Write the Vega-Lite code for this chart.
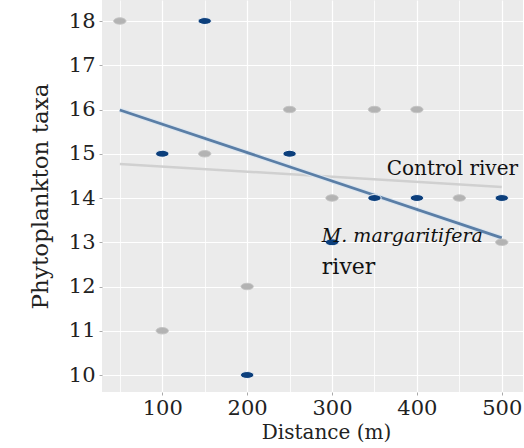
{
  "$schema": "https://vega.github.io/schema/vega-lite/v6.json",
  "width": 421,
  "height": 392,
  "autosize": "none",
  "padding": {"left": 102, "top": 0, "right": 1, "bottom": 56},
  "background": "white",
  "config": {
    "view": {"fill": "#ebebeb", "stroke": null},
    "axis": {
      "labelFont": "DejaVu Serif",
      "titleFont": "DejaVu Serif",
      "labelColor": "#222222",
      "titleColor": "#222222",
      "titleFontWeight": "normal",
      "domain": false,
      "gridColor": "white"
    }
  },
  "datasets": {
    "points": [
      {"distance": 50, "taxa": 18, "river": "Control"},
      {"distance": 100, "taxa": 11, "river": "Control"},
      {"distance": 150, "taxa": 15, "river": "Control"},
      {"distance": 200, "taxa": 12, "river": "Control"},
      {"distance": 250, "taxa": 16, "river": "Control"},
      {"distance": 300, "taxa": 14, "river": "Control"},
      {"distance": 350, "taxa": 16, "river": "Control"},
      {"distance": 400, "taxa": 16, "river": "Control"},
      {"distance": 450, "taxa": 14, "river": "Control"},
      {"distance": 500, "taxa": 13, "river": "Control"},
      {"distance": 100, "taxa": 15, "river": "Mussel"},
      {"distance": 150, "taxa": 18, "river": "Mussel"},
      {"distance": 200, "taxa": 10, "river": "Mussel"},
      {"distance": 250, "taxa": 15, "river": "Mussel"},
      {"distance": 300, "taxa": 13, "river": "Mussel"},
      {"distance": 350, "taxa": 14, "river": "Mussel"},
      {"distance": 400, "taxa": 14, "river": "Mussel"},
      {"distance": 500, "taxa": 14, "river": "Mussel"}
    ],
    "fits": [
      {"distance": 50, "taxa": 14.77, "river": "Control"},
      {"distance": 500, "taxa": 14.25, "river": "Control"},
      {"distance": 50, "taxa": 15.99, "river": "Mussel"},
      {"distance": 500, "taxa": 13.1, "river": "Mussel"}
    ],
    "labels": [
      {"distance": 364.5, "taxa": 14.52, "label": "Control river", "style": "control"},
      {"distance": 288, "taxa": 13.0, "label": "M. margaritifera", "style": "italic"},
      {"distance": 288, "taxa": 12.28, "label": "river", "style": "river"}
    ]
  },
  "layer": [
    {
      "data": {"name": "fits"},
      "transform": [{"filter": "datum.river == 'Control'"}],
      "mark": {"type": "line", "color": "#d0d0d0", "strokeWidth": 2.5},
      "encoding": {
        "x": {
          "field": "distance", "type": "quantitative",
          "scale": {"domain": [29, 525], "nice": false, "zero": false},
          "axis": {
            "title": "Distance (m)",
            "titleFontSize": 20,
            "titleX": 224,
            "titlePadding": 4,
            "labelFontSize": 21,
            "labelPadding": 2,
            "values": [50, 100, 150, 200, 250, 300, 350, 400, 450, 500],
            "labelExpr": "datum.value % 100 == 0 ? datum.label : ''",
            "tickSize": 3,
            "tickColor": {"condition": {"test": "datum.value % 100 == 0", "value": "#aaaaaa"}, "value": "transparent"},
            "gridWidth": {"condition": {"test": "datum.value % 100 == 0", "value": 1.2}, "value": 0.8}
          }
        },
        "y": {
          "field": "taxa", "type": "quantitative",
          "scale": {"domain": [9.616, 18.475], "nice": false, "zero": false},
          "axis": {
            "title": "Phytoplankton taxa",
            "titleFontSize": 23,
            "titlePadding": 16,
            "labelFontSize": 21,
            "labelPadding": 4,
            "values": [10, 10.5, 11, 11.5, 12, 12.5, 13, 13.5, 14, 14.5, 15, 15.5, 16, 16.5, 17, 17.5, 18],
            "labelExpr": "datum.value % 1 == 0 ? datum.label : ''",
            "tickSize": 3,
            "tickColor": {"condition": {"test": "datum.value % 1 == 0", "value": "#aaaaaa"}, "value": "transparent"},
            "gridWidth": {"condition": {"test": "datum.value % 1 == 0", "value": 1.2}, "value": 0.8}
          }
        }
      }
    },
    {
      "data": {"name": "fits"},
      "transform": [{"filter": "datum.river == 'Mussel'"}],
      "mark": {"type": "line", "color": "#dde6ef", "strokeWidth": 5},
      "encoding": {
        "x": {"field": "distance", "type": "quantitative"},
        "y": {"field": "taxa", "type": "quantitative"}
      }
    },
    {
      "data": {"name": "fits"},
      "transform": [{"filter": "datum.river == 'Mussel'"}],
      "mark": {"type": "line", "color": "#5a7ea6", "strokeWidth": 2.8},
      "encoding": {
        "x": {"field": "distance", "type": "quantitative"},
        "y": {"field": "taxa", "type": "quantitative"}
      }
    },
    {
      "data": {"name": "points"},
      "mark": {
        "type": "point",
        "filled": true,
        "opacity": 1,
        "shape": "M-1,0A1,0.52,0,1,0,1,0A1,0.52,0,1,0,-1,0Z"
      },
      "encoding": {
        "x": {"field": "distance", "type": "quantitative"},
        "y": {"field": "taxa", "type": "quantitative"},
        "color": {
          "field": "river", "type": "nominal",
          "scale": {"domain": ["Control", "Mussel"], "range": ["#b3b3b3", "#0c3f7c"]},
          "legend": null
        },
        "size": {
          "field": "river", "type": "nominal",
          "scale": {"domain": ["Control", "Mussel"], "range": [150, 175]},
          "legend": null
        },
        "stroke": {
          "field": "river", "type": "nominal",
          "scale": {"domain": ["Control", "Mussel"], "range": ["#c4c4c4", "#ffffff"]},
          "legend": null
        },
        "strokeWidth": {"value": 1}
      }
    },
    {
      "data": {"name": "labels"},
      "transform": [{"filter": "datum.style == 'control'"}],
      "mark": {"type": "text", "font": "DejaVu Serif", "fontSize": 20, "align": "left", "baseline": "alphabetic", "color": "#111111"},
      "encoding": {
        "x": {"field": "distance", "type": "quantitative"},
        "y": {"field": "taxa", "type": "quantitative"},
        "text": {"field": "label"}
      }
    },
    {
      "data": {"name": "labels"},
      "transform": [{"filter": "datum.style == 'river'"}],
      "mark": {"type": "text", "font": "DejaVu Serif", "fontSize": 22, "align": "left", "baseline": "alphabetic", "color": "#111111"},
      "encoding": {
        "x": {"field": "distance", "type": "quantitative"},
        "y": {"field": "taxa", "type": "quantitative"},
        "text": {"field": "label"}
      }
    },
    {
      "data": {"name": "labels"},
      "transform": [{"filter": "datum.style == 'italic'"}],
      "mark": {"type": "text", "font": "DejaVu Serif", "fontStyle": "italic", "fontSize": 19, "align": "left", "baseline": "alphabetic", "color": "#111111"},
      "encoding": {
        "x": {"field": "distance", "type": "quantitative"},
        "y": {"field": "taxa", "type": "quantitative"},
        "text": {"field": "label"}
      }
    }
  ]
}
